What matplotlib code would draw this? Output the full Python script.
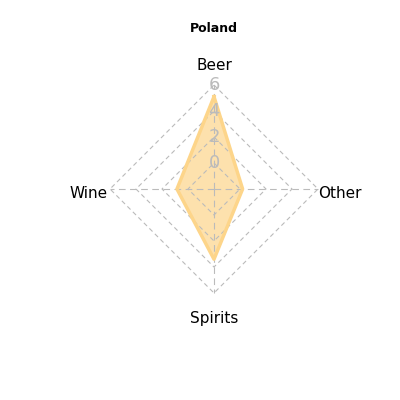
import numpy as np
import matplotlib.pyplot as plt

categories = ['Beer', 'Other', 'Spirits', 'Wine']
values = [5.1, 0.2, 3.4, 0.85]
levels = [0, 2, 4, 6]
vmax = 6

fig = plt.figure(figsize=(4, 4), dpi=100)
ax = fig.add_axes([0, 0, 1, 1])
ax.set_xlim(-214, 186)
ax.set_ylim(-211, 189)
ax.set_aspect('equal')
ax.axis('off')

R = 104
ang = np.pi / 2 - np.arange(4) * np.pi / 2


def rad(v):
    return R * (1 + v / 2) / 4


for lv in levels:
    r = rad(lv)
    xs = np.append(r * np.cos(ang), r * np.cos(ang[0]))
    ys = np.append(r * np.sin(ang), r * np.sin(ang[0]))
    ax.plot(xs, ys, color='#bbbbbb', lw=0.8, ls=(0, (4, 3)))
    ax.text(0, r, str(lv), color='#bbbbbb', fontsize=13, ha='center', va='center')

for a in ang:
    ax.plot([0, R * np.cos(a)], [0, R * np.sin(a)], color='#bbbbbb', lw=0.8, ls=(0, (6, 4)))

r = np.array([rad(v) for v in values])
xs = np.append(r * np.cos(ang), r[0] * np.cos(ang[0]))
ys = np.append(r * np.sin(ang), r[0] * np.sin(ang[0]))
ax.fill(xs, ys, color='#fdd58a', alpha=0.7)
ax.plot(xs, ys, color='#fdd58a', lw=2.5)

offs = [(0, 20, 'center', 'bottom'), (104, 0, 'left', 'center'),
        (0, -118, 'center', 'top'), (-105, 0, 'right', 'center')]
for name, (x, y, ha, va), a in zip(categories, offs, ang):
    if name == 'Beer':
        ax.text(0, R + 12, name, fontsize=11, ha='center', va='bottom')
    elif name == 'Spirits':
        ax.text(0, -R - 18, name, fontsize=11, ha='center', va='top')
    elif name == 'Other':
        ax.text(R, -4, name, fontsize=11, ha='left', va='center')
    else:
        ax.text(-R - 2, -4, name, fontsize=11, ha='right', va='center')

ax.text(0, 160, 'Poland', fontsize=9, fontweight='bold', ha='center', va='center')

fig.savefig('out.png')
